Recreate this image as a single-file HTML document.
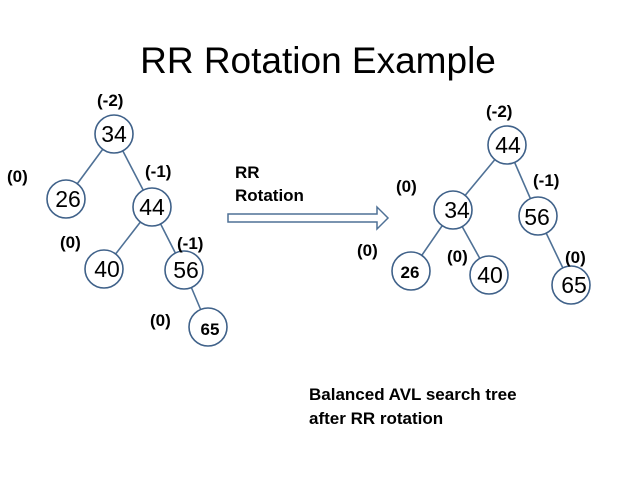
<!DOCTYPE html>
<html><head><meta charset="utf-8"><style>
body{margin:0;background:#fff;}
svg text{font-family:"Liberation Sans",sans-serif;}
</style></head><body>
<svg width="638" height="479" viewBox="0 0 638 479" xmlns="http://www.w3.org/2000/svg">
<rect width="638" height="479" fill="#fff"/>
<text x="318" y="73" font-size="37" text-anchor="middle" fill="#000">RR Rotation Example</text>
<g stroke="#4f7196" stroke-width="1.6" fill="none">
<line x1="114" y1="134" x2="66" y2="199"/>
<line x1="114" y1="134" x2="152" y2="207"/>
<line x1="152" y1="207" x2="104" y2="269"/>
<line x1="152" y1="207" x2="184" y2="270"/>
<line x1="184" y1="270" x2="208" y2="327"/>
<line x1="507" y1="145" x2="453" y2="210"/>
<line x1="507" y1="145" x2="538" y2="216"/>
<line x1="453" y1="210" x2="411" y2="271"/>
<line x1="453" y1="210" x2="489" y2="275"/>
<line x1="538" y1="216" x2="571" y2="285"/>
</g>
<g stroke="#3f6189" stroke-width="1.6" fill="#fff">
<circle cx="114" cy="134" r="19"/><circle cx="66" cy="199" r="19"/><circle cx="152" cy="207" r="19"/>
<circle cx="104" cy="269" r="19"/><circle cx="184" cy="270" r="19"/><circle cx="208" cy="327" r="19"/>
<circle cx="507" cy="145" r="19"/><circle cx="453" cy="210" r="19"/><circle cx="538" cy="216" r="19"/>
<circle cx="411" cy="271" r="19"/><circle cx="489" cy="275" r="19"/><circle cx="571" cy="285" r="19"/>
</g>
<g font-size="23" text-anchor="middle" fill="#000">
<text x="114" y="142">34</text><text x="68" y="207">26</text><text x="152" y="215">44</text>
<text x="107" y="277">40</text><text x="186" y="278">56</text>
<text x="508" y="153">44</text><text x="457" y="218">34</text><text x="537" y="225">56</text>
<text x="490" y="283">40</text><text x="574" y="293">65</text>
</g>
<g font-size="17" font-weight="bold" text-anchor="middle" fill="#000">
<text x="210" y="335">65</text><text x="410" y="278">26</text>
</g>
<g font-size="17" font-weight="bold" fill="#000">
<text x="97" y="106">(-2)</text>
<text x="7" y="182">(0)</text>
<text x="145" y="177">(-1)</text>
<text x="60" y="248">(0)</text>
<text x="177" y="249">(-1)</text>
<text x="150" y="326">(0)</text>
<text x="235" y="178">RR</text>
<text x="235" y="201">Rotation</text>
<text x="486" y="117">(-2)</text>
<text x="396" y="192">(0)</text>
<text x="533" y="186">(-1)</text>
<text x="357" y="256">(0)</text>
<text x="447" y="262">(0)</text>
<text x="565" y="263">(0)</text>
<text x="309" y="400">Balanced AVL search tree</text>
<text x="309" y="424">after RR rotation</text>
</g>
<polygon points="228,214 377,214 377,207 388,218 377,229 377,222 228,222" fill="#fff" stroke="#4f7196" stroke-width="1.5"/>
</svg>
</body></html>
